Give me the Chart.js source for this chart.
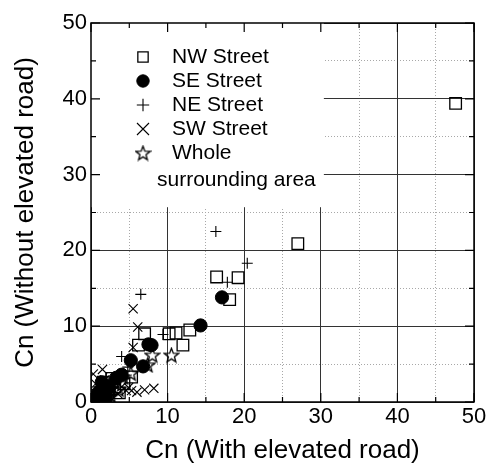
<!DOCTYPE html>
<html>
<head>
<meta charset="utf-8">
<script src="https://cdn.jsdelivr.net/npm/chart.js@4.4.1/dist/chart.umd.min.js"></script>
<style>
    html, body { margin: 0; padding: 0; background: #fff; }
</style>
</head>
<body>
<canvas id="cn_chart" width="498" height="464"></canvas>
<script>
// axis ticks
const major_ticks = [0, 10, 20, 30, 40, 50];
const minor_ticks = [0, 5, 10, 15, 20, 25, 30, 35, 40, 45, 50];

// series
const nw_x = [47.6, 27.0, 16.4, 19.2, 18.1, 12.9, 10.2, 11.1, 12.0, 7.0, 6.2, 5.3, 4.3, 3.1, 2.3, 1.6, 0.9, 3.7, 1.3, 2.7, 0.5];
const nw_y = [39.4, 20.9, 16.5, 16.4, 13.5, 9.5, 9.0, 9.1, 7.5, 9.0, 7.5, 3.3, 2.4, 2.0, 1.6, 2.6, 0.9, 1.2, 0.4, 3.1, 0.3];

const se_x = [17.1, 14.3, 7.5, 7.9, 5.2, 6.8, 1.4, 2.4, 3.3, 0.7, 1.1, 2.0, 4.0, 0.4];
const se_y = [13.8, 10.1, 7.6, 7.5, 5.5, 4.7, 2.6, 2.0, 3.2, 0.8, 1.4, 0.6, 3.6, 0.3];

const ne_x = [16.3, 20.4, 17.8, 6.5, 9.4, 4.0, 2.0, 1.0, 3.0, 0.6, 4.8, 2.6, 1.6];
const ne_y = [22.5, 18.3, 15.8, 14.2, 8.9, 6.0, 3.0, 2.0, 2.5, 1.0, 4.6, 1.0, 0.5];

const sw_x = [5.5, 6.1, 5.5, 1.5, 5.3, 7.0, 8.2, 0.3, 1.0, 2.0, 3.0, 4.0, 2.5, 3.5, 4.6, 0.6, 1.8, 6.0, 4.9];
const sw_y = [12.3, 9.9, 7.2, 4.3, 1.5, 1.6, 1.8, 3.7, 0.5, 1.0, 1.5, 2.0, 0.7, 1.1, 1.5, 2.4, 2.9, 1.3, 1.9];

const whole_x = [10.5, 8.0, 7.4, 5.2, 4.2, 3.0, 2.0, 1.0, 0.5, 3.6, 2.6];
const whole_y = [6.2, 6.2, 4.9, 3.8, 3.3, 2.6, 2.0, 1.0, 0.5, 1.7, 0.8];

const legend_labels = ['NW Street', 'SE Street', 'NE Street', 'SW Street', 'Whole'];
const legend_extra = 'surrounding area';
const x_title = 'Cn (With elevated road)';
const y_title = 'Cn (Without elevated road)';

const font_family = "'Liberation Sans', Arial, Helvetica, sans-serif";

function to_points(xs, ys) {
    return xs.map(function (x, idx) {
        return { x: x, y: ys[idx] };
    });
}

function make_star(size) {
    const cv = document.createElement('canvas');
    cv.width = size;
    cv.height = size;
    const c = cv.getContext('2d');
    const cx = size / 2;
    const cy = size / 2 + 0.7;
    const outer = size / 2 - 1;
    const inner = outer * 0.42;
    c.beginPath();
    for (let i = 0; i < 10; i += 1) {
        const r = i % 2 === 0 ? outer : inner;
        const a = -Math.PI / 2 + i * Math.PI / 5;
        const px = cx + r * Math.cos(a);
        const py = cy + r * Math.sin(a);
        if (i === 0) c.moveTo(px, py); else c.lineTo(px, py);
    }
    c.closePath();
    c.strokeStyle = '#000';
    c.lineWidth = 1.3;
    c.stroke();
    return cv;
}

const star_img = make_star(17);

// marker styles, shared by data and legend
const marker_styles = [
    { pointStyle: 'rect', radius: 8.2, fill: 'rgba(0,0,0,0)', width: 1.3 },
    { pointStyle: 'circle', radius: 6.6, fill: '#000', width: 1 },
    { pointStyle: 'cross', radius: 5.5, fill: 'rgba(0,0,0,0)', width: 1.1 },
    { pointStyle: 'crossRot', radius: 6.5, fill: 'rgba(0,0,0,0)', width: 1.1 },
    { pointStyle: star_img, radius: 7, fill: 'rgba(0,0,0,0)', width: 1 },
];
const legend_radius = [7.3, 6.2, 6.2, 8.5, 7];

function make_dataset(label, xs, ys, style) {
    return {
        label: label,
        data: to_points(xs, ys),
        xAxisID: 'x',
        yAxisID: 'y',
        showLine: false,
        pointStyle: style.pointStyle,
        pointRadius: style.radius,
        pointHoverRadius: style.radius,
        pointBackgroundColor: style.fill,
        pointBorderColor: '#000',
        pointBorderWidth: style.width,
    };
}

const frame_plugin = {
    id: 'frame_plugin',
    beforeDatasetsDraw(chart) {
        const ctx = chart.ctx;
        const xs = chart.scales.x;
        const ys = chart.scales.y;
        const left = xs.getPixelForValue(0);
        const top = ys.getPixelForValue(50);
        const right = xs.getPixelForValue(30.4);
        const bottom = ys.getPixelForValue(25.7);
        ctx.save();
        ctx.fillStyle = '#fff';
        ctx.fillRect(left, top, right - left, bottom - top);
        ctx.restore();
    },
    afterDraw(chart) {
        const ctx = chart.ctx;
        const area = chart.chartArea;
        const xs = chart.scales.x;
        const ys = chart.scales.y;

        ctx.save();
        ctx.strokeStyle = '#000';
        ctx.lineWidth = 1.5;
        ctx.strokeRect(area.left, area.top, area.right - area.left, area.bottom - area.top);

        ctx.lineWidth = 1.2;
        ctx.beginPath();
        minor_ticks.forEach(function (v) {
            const len = v % 10 === 0 ? 9 : 5;
            const px = xs.getPixelForValue(v);
            const py = ys.getPixelForValue(v);
            ctx.moveTo(px, area.bottom);
            ctx.lineTo(px, area.bottom - len);
            ctx.moveTo(px, area.top);
            ctx.lineTo(px, area.top + len);
            ctx.moveTo(area.left, py);
            ctx.lineTo(area.left + len, py);
            ctx.moveTo(area.right, py);
            ctx.lineTo(area.right - len, py);
        });
        ctx.stroke();

        // legend
        const sym_x = area.left + 52;
        const text_x = area.left + 81;
        const row_y = area.top + 34;
        const row_gap = 24;
        ctx.font = '21px ' + font_family;
        ctx.textBaseline = 'middle';
        ctx.textAlign = 'left';
        legend_labels.forEach(function (label, idx) {
            const st = marker_styles[idx];
            const y = row_y + idx * row_gap;
            ctx.fillStyle = st.fill;
            ctx.strokeStyle = '#000';
            ctx.lineWidth = st.width;
            Chart.helpers.drawPoint(ctx, {
                pointStyle: st.pointStyle,
                radius: legend_radius[idx],
                rotation: 0,
                borderWidth: st.width,
            }, sym_x, y);
            ctx.fillStyle = '#000';
            ctx.fillText(label, text_x, y);
        });
        ctx.fillStyle = '#000';
        ctx.fillText(legend_extra, area.left + 66, area.top + 157);
        ctx.restore();
    },
};

const tick_font = { family: font_family, size: 22 };
const title_font = { family: font_family, size: 26, lineHeight: 1 };

new Chart(document.getElementById('cn_chart').getContext('2d'), {
    type: 'scatter',
    data: {
        datasets: [
            make_dataset('SE Street', se_x, se_y, marker_styles[1]),
            make_dataset('NE Street', ne_x, ne_y, marker_styles[2]),
            make_dataset('SW Street', sw_x, sw_y, marker_styles[3]),
            make_dataset('NW Street', nw_x, nw_y, marker_styles[0]),
            make_dataset('Whole surrounding area', whole_x, whole_y, marker_styles[4]),
        ],
    },
    options: {
        responsive: false,
        animation: false,
        events: [],
        layout: { padding: { top: 23, right: 24, left: 0, bottom: 0 } },
        plugins: {
            legend: { display: false },
            tooltip: { enabled: false },
        },
        scales: {
            x: {
                type: 'linear',
                position: 'bottom',
                min: 0,
                max: 50,
                afterBuildTicks: function (s) { s.ticks = major_ticks.map(function (v) { return { value: v }; }); },
                afterFit: function (s) { s.height = 62; },
                ticks: { font: tick_font, color: '#000', padding: 2, maxRotation: 0, autoSkip: false },
                grid: { color: '#333', lineWidth: 1, drawTicks: false, z: -1 },
                border: { display: false },
                title: { display: true, text: x_title, font: title_font, color: '#000', padding: { top: 0, bottom: 0 } },
            },
            y: {
                type: 'linear',
                position: 'left',
                min: 0,
                max: 50,
                afterBuildTicks: function (s) { s.ticks = major_ticks.map(function (v) { return { value: v }; }); },
                afterFit: function (s) { s.width = 91; },
                ticks: { font: tick_font, color: '#000', padding: 4, autoSkip: false },
                grid: { color: '#333', lineWidth: 1, drawTicks: false, z: -1 },
                border: { display: false },
                title: { display: true, text: y_title, font: title_font, color: '#000', padding: { top: 13, bottom: 0 } },
            },
            x_minor: {
                type: 'linear',
                position: 'bottom',
                min: 0,
                max: 50,
                afterBuildTicks: function (s) { s.ticks = minor_ticks.map(function (v) { return { value: v }; }); },
                afterFit: function (s) { s.height = 0; },
                ticks: { display: false },
                grid: {
                    drawTicks: false,
                    z: -2,
                    color: function (c) { return c.tick && c.tick.value % 10 === 0 ? 'rgba(0,0,0,0)' : '#a8a8a8'; },
                    borderDash: [1, 2],
                },
                border: { display: false, dash: [1, 2] },
            },
            y_minor: {
                type: 'linear',
                position: 'left',
                min: 0,
                max: 50,
                afterBuildTicks: function (s) { s.ticks = minor_ticks.map(function (v) { return { value: v }; }); },
                afterFit: function (s) { s.width = 0; },
                ticks: { display: false },
                grid: {
                    drawTicks: false,
                    z: -2,
                    color: function (c) { return c.tick && c.tick.value % 10 === 0 ? 'rgba(0,0,0,0)' : '#a8a8a8'; },
                    borderDash: [1, 2],
                },
                border: { display: false, dash: [1, 2] },
            },
        },
    },
    plugins: [frame_plugin],
});
</script>
</body>
</html>
